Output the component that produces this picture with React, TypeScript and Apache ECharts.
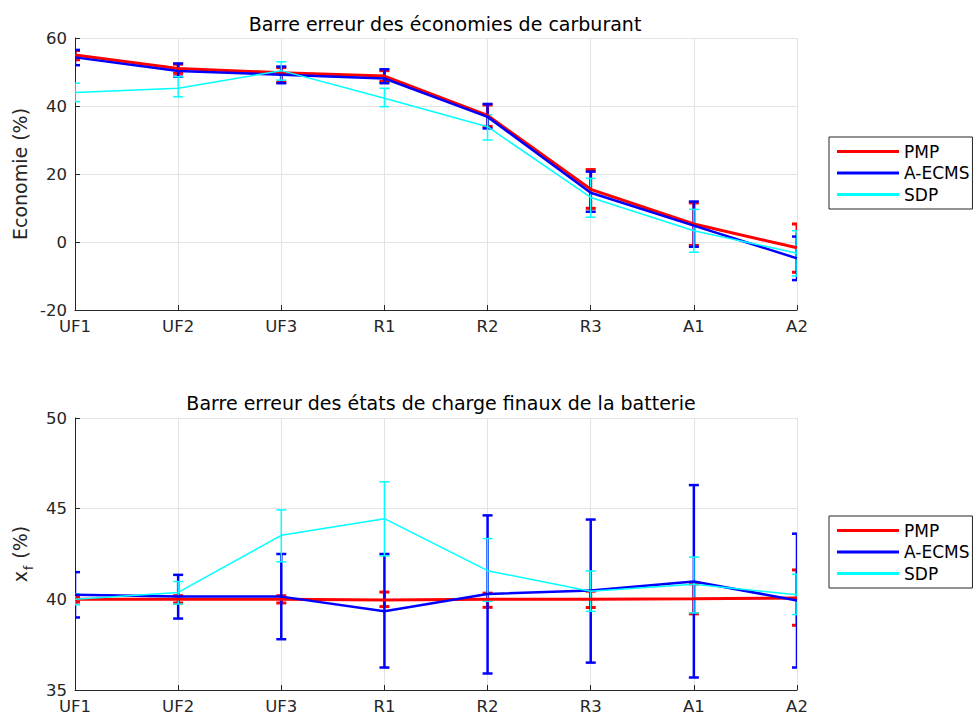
import React, { useEffect, useRef } from 'react';
import * as echarts from 'echarts';

const categories = ['UF1', 'UF2', 'UF3', 'R1', 'R2', 'R3', 'A1', 'A2'];

// Top chart: fuel economy (%)
const ecoPMP = [55.0, 51.0, 49.8, 48.8, 37.2, 15.5, 5.3, -1.7];
const ecoPMPLow = [53.6, 49.6, 47.0, 47.2, 34.0, 9.9, -1.0, -8.9];
const ecoPMPHigh = [56.3, 52.3, 51.3, 50.4, 40.3, 21.3, 11.5, 5.3];
const ecoECMS = [54.3, 50.3, 49.2, 48.1, 36.8, 14.5, 4.8, -4.8];
const ecoECMSLow = [52.0, 48.6, 46.7, 46.7, 33.4, 8.9, -1.4, -11.2];
const ecoECMSHigh = [56.5, 52.5, 51.6, 50.8, 40.6, 20.7, 11.9, 1.6];
const ecoSDP = [44.0, 45.2, 50.4, 42.3, 33.9, 13.1, 3.3, -3.3];
const ecoSDPLow = [41.3, 42.7, 47.6, 39.8, 30.0, 7.3, -3.0, -10.0];
const ecoSDPHigh = [46.7, 48.6, 53.0, 45.2, 37.4, 18.7, 9.6, 3.3];

// Bottom chart: final state of charge (%)
const socPMP = [40.0, 40.0, 40.0, 39.97, 40.0, 40.0, 40.03, 40.08];
const socPMPLow = [39.85, 39.8, 39.8, 39.6, 39.56, 39.55, 39.2, 38.57];
const socPMPHigh = [40.15, 40.2, 40.2, 40.4, 40.34, 40.45, 40.85, 41.62];
const socECMS = [40.25, 40.16, 40.15, 39.34, 40.29, 40.49, 40.98, 39.94];
const socECMSLow = [39.0, 38.94, 37.8, 36.24, 35.91, 36.51, 35.69, 36.24];
const socECMSHigh = [41.5, 41.35, 42.5, 42.5, 44.63, 44.4, 46.3, 43.62];
const socSDP = [40.0, 40.38, 43.53, 44.45, 41.58, 40.44, 40.83, 40.25];
const socSDPLow = [39.7, 39.74, 42.07, 42.4, 39.89, 39.34, 39.25, 39.16];
const socSDPHigh = [40.3, 40.98, 44.93, 46.48, 43.35, 41.56, 42.33, 41.38];

const FONT = 'DejaVu Sans, Liberation Sans, Arial, sans-serif';
const TXT = '#262626';
const RED = '#ff0000';
const BLUE = '#0000ff';
const CYAN = '#00ffff';

function lineSeries(name: string, data: number[], color: string, width: number, idx: number) {
  return {
    type: 'line',
    name,
    xAxisIndex: idx,
    yAxisIndex: idx,
    data,
    symbol: 'none',
    lineStyle: { color, width },
    itemStyle: { color },
  };
}

function errSeries(name: string, low: number[], high: number[], color: string, width: number, idx: number, cap: number) {
  return {
    type: 'custom',
    name: name + ' err',
    xAxisIndex: idx,
    yAxisIndex: idx,
    clip: true,
    data: low.map((l, i) => [i, l, high[i]]),
    encode: { x: 0, y: [1, 2] },
    renderItem: (params: any, api: any) => {
      const x = api.value(0);
      const lo = api.coord([x, api.value(1)]);
      const hi = api.coord([x, api.value(2)]);
      const h = cap / 2;
      const style = { stroke: color, lineWidth: width, fill: null };
      return {
        type: 'group',
        children: [
          { type: 'line', shape: { x1: lo[0], y1: lo[1], x2: hi[0], y2: hi[1] }, style },
          { type: 'line', shape: { x1: lo[0] - h, y1: lo[1], x2: lo[0] + h, y2: lo[1] }, style },
          { type: 'line', shape: { x1: hi[0] - h, y1: hi[1], x2: hi[0] + h, y2: hi[1] }, style },
        ],
      };
    },
  };
}

function xAxis(idx: number) {
  return {
    type: 'category',
    gridIndex: idx,
    data: categories,
    boundaryGap: false,
    axisLine: { show: true, onZero: false, lineStyle: { color: TXT, width: 1 } },
    axisTick: { show: true, inside: true, length: 5, lineStyle: { color: TXT } },
    axisLabel: { color: TXT, fontSize: 16.5, lineHeight: 14, fontFamily: FONT, margin: 9 },
    splitLine: { show: true, lineStyle: { color: '#e3e3e3', width: 1 } },
  };
}

function yAxisBase(idx: number, min: number, max: number, interval: number) {
  return {
    type: 'value',
    gridIndex: idx,
    min,
    max,
    interval,
    nameLocation: 'middle',
    nameGap: 43,
    axisLine: { show: true, onZero: false, lineStyle: { color: TXT } },
    axisTick: { show: true, inside: true, length: 5, lineStyle: { color: TXT } },
    axisLabel: { color: TXT, fontSize: 16.5, lineHeight: 14, fontFamily: FONT, margin: 8 },
    splitLine: { show: true, lineStyle: { color: '#e3e3e3' } },
  };
}

export default function App() {
  const ref = useRef<HTMLDivElement>(null);
  useEffect(() => {
    if (!ref.current) return;
    const chart = echarts.init(ref.current, undefined, { renderer: 'svg' });
    const legendBase = {
      orient: 'vertical',
      left: 829,
      data: ['PMP', 'A-ECMS', 'SDP'],
      icon: 'rect',
      itemWidth: 62,
      itemHeight: 3,
      itemGap: 4.5,
      itemTextGap: 4,
      padding: [6, 3, 6, 8],
      borderColor: '#262626',
      borderWidth: 1,
      backgroundColor: '#fff',
      selectedMode: false,
      textStyle: { color: '#000', fontSize: 17, fontFamily: FONT },
    };
    chart.setOption({
      animation: false,
      backgroundColor: '#fff',
      title: [
        {
          text: 'Barre erreur des économies de carburant',
          left: 440,
          textAlign: 'center',
          top: 9,
          textStyle: { fontSize: 19, fontWeight: 'normal', color: '#000', fontFamily: FONT },
        },
        {
          text: 'Barre erreur des états de charge finaux de la batterie',
          left: 436,
          textAlign: 'center',
          top: 388,
          textStyle: { fontSize: 19, fontWeight: 'normal', color: '#000', fontFamily: FONT },
        },
      ],
      legend: [
        { ...legendBase, top: 137 },
        { ...legendBase, top: 516 },
      ],
      grid: [
        { left: 75, top: 38, width: 722, height: 272 },
        { left: 75, top: 418, width: 722, height: 272 },
      ],
      xAxis: [xAxis(0), xAxis(1)],
      yAxis: [
        {
          ...yAxisBase(0, -20, 60, 20),
          name: 'Economie (%)',
          nameTextStyle: { color: TXT, fontSize: 19, fontFamily: FONT },
        },
        {
          ...yAxisBase(1, 35, 50, 5),
          name: '{a|x}{b|f}{a| (%)}',
          nameGap: 40,
          nameTextStyle: {
            color: TXT,
            fontFamily: FONT,
            rich: {
              a: { fontSize: 19, color: TXT, fontFamily: FONT, verticalAlign: 'middle' },
              b: { fontSize: 12, color: TXT, fontFamily: FONT, verticalAlign: 'bottom', padding: [18, 1, 0, 1] },
            },
          },
        },
      ],
      series: [
        lineSeries('PMP', ecoPMP, RED, 3, 0),
        errSeries('PMP', ecoPMPLow, ecoPMPHigh, RED, 3, 0, 10),
        lineSeries('A-ECMS', ecoECMS, BLUE, 2.5, 0),
        errSeries('A-ECMS', ecoECMSLow, ecoECMSHigh, BLUE, 2.5, 0, 10),
        lineSeries('SDP', ecoSDP, CYAN, 1.5, 0),
        errSeries('SDP', ecoSDPLow, ecoSDPHigh, CYAN, 1.5, 0, 10),
        lineSeries('PMP', socPMP, RED, 3, 1),
        errSeries('PMP', socPMPLow, socPMPHigh, RED, 3, 1, 10),
        lineSeries('A-ECMS', socECMS, BLUE, 2.5, 1),
        errSeries('A-ECMS', socECMSLow, socECMSHigh, BLUE, 2.5, 1, 10),
        lineSeries('SDP', socSDP, CYAN, 1.5, 1),
        errSeries('SDP', socSDPLow, socSDPHigh, CYAN, 1.5, 1, 10),
      ],
    });
    return () => chart.dispose();
  }, []);
  return (
    <div
      ref={ref}
      style={{ position: 'fixed', left: 0, top: 0, width: 974, height: 721, background: '#fff' }}
    />
  );
}
